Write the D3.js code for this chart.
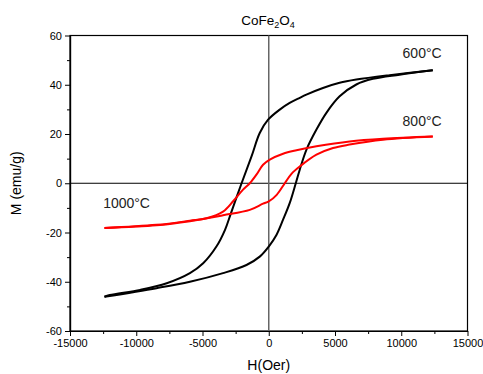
<!DOCTYPE html>
<html><head><meta charset="utf-8">
<script src="https://cdn.jsdelivr.net/npm/d3@7"></script>
<style>body{margin:0;background:#fff}svg{display:block;font-family:"Liberation Sans",Arial,sans-serif}</style>
</head><body>
<svg id="c" width="483" height="374"></svg>
<script>
// 600°C loop (black)
const hUpper600 = [-12400,-12000,-9700,-7700,-5950,-4950,-3950,-3300,-2850,-2050,-1300,-680,-50,830,1580,2340,2840,4090,5350,6610,9120,12380];
const mUpper600 = [-46.1,-45.4,-43.3,-40.6,-36.5,-32.5,-25.7,-18.9,-12.1,0,10.9,20.4,25.8,29.9,32.6,34.7,36.0,38.7,40.8,42.1,43.9,45.9];
const hLower600 = [-12400,-8470,-5950,-3450,-1680,-680,0,580,1080,1580,2040,2340,2840,3600,4350,5350,6610,7860,9870,12380];
const mLower600 = [-46.1,-42.6,-40.0,-36.5,-33.2,-29.8,-25.7,-21.0,-14.8,-8.1,0,5.5,13.6,21.8,28.6,35.3,40.1,42.4,44.1,45.9];
// 800°C loop (red)
const hUpper800 = [-12400,-8470,-5950,-4700,-3450,-2690,-1940,-1430,-930,-430,80,1080,2090,3600,6100,8620,12380];
const mUpper800 = [-18.2,-16.9,-15.2,-14.2,-11.5,-7.3,-2.6,0,3.5,7.5,9.6,12.0,13.4,15.0,17.0,18.1,19.0];
const hLower800 = [-12400,-8470,-5950,-3450,-1430,-430,0,600,1210,1730,2340,3600,4850,6100,8620,12380];
const mLower800 = [-18.2,-17.1,-15.4,-13.0,-10.8,-8.3,-7.4,-4.7,0,3.9,6.8,11.6,14.3,15.7,17.7,19.0];

const xTicks = [-15000,-10000,-5000,0,5000,10000,15000];
const xMinor = [-12500,-7500,-2500,2500,7500,12500];
const yTicks = [-60,-40,-20,0,20,40,60];
const yMinor = [-50,-30,-10,10,30,50];
const labels = [
  {text:"600°C", h:10100, m:50.8},
  {text:"800°C", h:10100, m:23.1},
  {text:"1000°C", h:-12500, m:-10.2}
];

const svg = d3.select("#c");
const L=70, R=467.5, T=35.5, B=331;
const x = d3.scaleLinear().domain([-15000,15000]).range([L,R]);
const y = d3.scaleLinear().domain([-60,60]).range([B,T]);

// frame
svg.append("rect").attr("x",L).attr("y",T).attr("width",R-L).attr("height",B-T)
  .attr("fill","none").attr("stroke","#000").attr("stroke-width",1.2);

// zero lines
svg.append("line").attr("x1",L).attr("x2",R).attr("y1",y(0)).attr("y2",y(0))
  .attr("stroke","#000").attr("stroke-width",1);
svg.append("line").attr("x1",x(0)).attr("x2",x(0)).attr("y1",T).attr("y2",B)
  .attr("stroke","#666").attr("stroke-width",1.5);

// axes
const fs = "11px";
svg.append("g").attr("transform",`translate(0,${B})`)
  .call(d3.axisBottom(x).tickValues(xTicks).tickSize(5).tickSizeOuter(0).tickPadding(3).tickFormat(d3.format("d")));
svg.append("g").attr("transform",`translate(0,${B})`)
  .call(d3.axisBottom(x).tickValues(xMinor).tickSize(3).tickSizeOuter(0).tickFormat(""));
svg.append("g").attr("transform",`translate(${L},0)`)
  .call(d3.axisLeft(y).tickValues(yTicks).tickSize(5).tickSizeOuter(0).tickPadding(3).tickFormat(d3.format("d")));
svg.append("g").attr("transform",`translate(${L},0)`)
  .call(d3.axisLeft(y).tickValues(yMinor).tickSize(3).tickSizeOuter(0).tickFormat(""));
svg.selectAll(".domain").attr("stroke","#000").attr("stroke-width",1.2);
svg.selectAll(".tick line").attr("stroke","#000").attr("stroke-width",1);
svg.selectAll(".tick text").attr("font-size",fs).attr("fill","#000")
  .attr("font-family","'Liberation Sans',Arial,sans-serif")
  .text(function(){return this.textContent.replace("\u2212","-");});

// curves
const line = d3.line().x(d=>x(d[0])).y(d=>y(d[1])).curve(d3.curveCatmullRom.alpha(0.5));
const zip = (a,b)=>a.map((v,i)=>[v,b[i]]);
const series = [
  {h:hUpper600,m:mUpper600,c:"#000"},
  {h:hLower600,m:mLower600,c:"#000"},
  {h:hUpper800,m:mUpper800,c:"#ff0000"},
  {h:hLower800,m:mLower800,c:"#ff0000"}
];
series.forEach(s=>{
  svg.append("path").attr("d",line(zip(s.h,s.m))).attr("fill","none")
    .attr("stroke",s.c).attr("stroke-width",2).attr("stroke-linejoin","round");
});

// curve labels
labels.forEach(l=>{
  svg.append("text").attr("x",x(l.h)).attr("y",y(l.m)).attr("font-size","14px")
    .attr("fill","#222").text(l.text);
});

// title
const t = svg.append("text").attr("x",268).attr("y",25).attr("text-anchor","middle")
  .attr("font-size","13.5px").attr("fill","#000");
t.append("tspan").text("CoFe");
t.append("tspan").attr("font-size","9px").attr("dy",3).text("2");
t.append("tspan").attr("dy",-3).text("O");
t.append("tspan").attr("font-size","9px").attr("dy",3).text("4");

// axis titles
svg.append("text").attr("x",x(0)).attr("y",370).attr("text-anchor","middle")
  .attr("font-size","14px").attr("fill","#000").text("H(Oer)");
svg.append("text").attr("transform",`translate(21,${y(0)}) rotate(-90)`).attr("text-anchor","middle")
  .attr("font-size","14px").attr("fill","#000").text("M (emu/g)");
</script>
</body></html>
